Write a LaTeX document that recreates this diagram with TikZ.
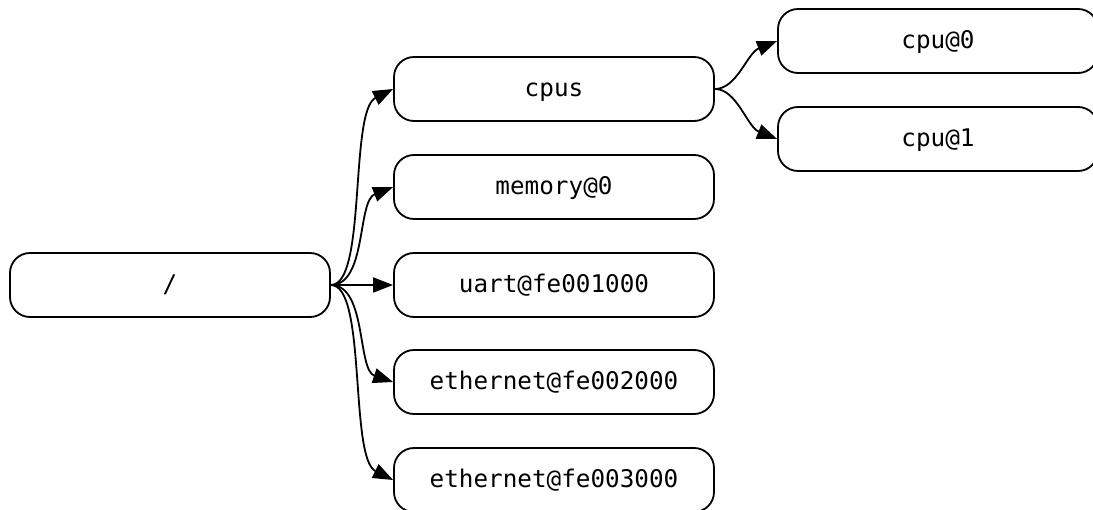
\documentclass[tikz,border=0pt]{standalone}
\usepackage{fontspec}
\setmonofont{DejaVu Sans Mono}
\usetikzlibrary{arrows.meta}
\begin{document}
\begin{tikzpicture}[x=1pt,y=-1pt,
  box/.style={draw=black,line width=1.8pt,rounded corners=20pt,minimum width=320pt,minimum height=64pt,inner sep=0pt,text height=24pt,text depth=8pt,font=\ttfamily\fontsize{24.3}{28}\selectfont},
  edge/.style={draw=black,line width=1.8pt,-{Triangle[length=20pt,width=15pt]}}]
\useasboundingbox (0,0) rectangle (1093,510);
\node[box] (root) at (170,285) {/};
\node[box] (cpus) at (554,89) {cpus};
\node[box] (mem) at (554,187) {memory@0};
\node[box] (uart) at (554,285) {uart@fe001000};
\node[box] (eth2) at (554,382) {ethernet@fe002000};
\node[box] (eth3) at (554,480) {ethernet@fe003000};
\node[box] (cpu0) at (938,41) {cpu@0};
\node[box] (cpu1) at (938,139) {cpu@1};
\draw[edge] (root.east) .. controls +(36,0) and +(-44,22) .. (cpus.west);
\draw[edge] (root.east) .. controls +(36,0) and +(-36,14) .. (mem.west);
\draw[edge] (root.east) -- (uart.west);
\draw[edge] (root.east) .. controls +(36,0) and +(-36,-12) .. (eth2.west);
\draw[edge] (root.east) .. controls +(36,0) and +(-44,-22) .. (eth3.west);
\draw[edge] (cpus.east) .. controls +(22,0) and +(-30,12) .. (cpu0.west);
\draw[edge] (cpus.east) .. controls +(22,0) and +(-30,-12) .. (cpu1.west);
\end{tikzpicture}
\end{document}
